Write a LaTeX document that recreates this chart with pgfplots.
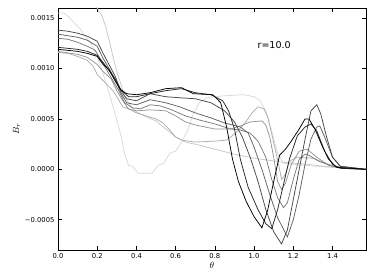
\documentclass[border=0pt]{standalone}
\usepackage{fontspec}
\setmainfont{DejaVu Sans}
\usepackage{pgfplots}
\pgfplotsset{compat=1.18}
\begin{document}
\begin{tikzpicture}
\path[use as bounding box] (-58pt,-30pt) rectangle (316pt,250pt);
\begin{axis}[at={(0,0)},anchor=south west, scale only axis, width=308pt, height=242pt,
xmin=0,xmax=1.5708,ymin=-0.0008,ymax=0.0016,
xtick={0,0.2,0.4,0.6,0.8,1.0,1.2,1.4}, xticklabels={0.0,0.2,0.4,0.6,0.8,1.0,1.2,1.4},
ytick={-0.0005,0,0.0005,0.001,0.0015}, yticklabels={−0.0005,0.0000,0.0005,0.0010,0.0015},
tick align=inside, major tick length=4pt, minor tick num=0,
ticklabel style={font=\fontsize{6.8}{8}\selectfont},
xlabel={$\theta$}, ylabel={$B_r$},
label style={font=\fontsize{9.5}{11}\selectfont},
xlabel style={yshift=3pt}, ylabel style={yshift=-2pt},
axis line style={line width=0.8pt}, tick style={line width=0.6pt, black},
every axis plot/.append style={line width=0.75pt, mark=none},
scaled ticks=false,
]
% A
\addplot[black!15] coordinates {(0,0.00155)(0.03,0.00155)(0.05,0.00152)(0.08,0.00146)(0.11,0.0014)(0.14,0.00132)(0.17,0.00124)(0.2,0.00112)(0.23,0.00095)(0.26,0.00076)(0.29,0.00056)(0.32,0.00034)(0.34,0.00015)(0.36,0.00004)(0.38,0.00003)(0.41,-0.00004)(0.48,-0.00004)(0.51,0.00004)(0.54,0.00006)(0.57,0.00016)(0.6,0.00018)(0.63,0.00027)(0.66,0.00038)(0.69,0.00055)(0.72,0.00066)(0.76,0.00071)(0.85,0.00073)(0.95,0.00074)(1.0,0.00072)(1.03,0.00068)(1.06,0.00058)(1.09,0.00038)(1.12,0.00016)(1.15,0.00006)(1.25,0.00004)(1.4,0.00002)(1.5708,0)};
% B
\addplot[black!22] coordinates {(0,0.0019)(0.18,0.00168)(0.2,0.0016)(0.225,0.00152)(0.245,0.0014)(0.265,0.00125)(0.28,0.00112)(0.3,0.00097)(0.32,0.00085)(0.34,0.00072)(0.37,0.00063)(0.4,0.00057)(0.45,0.00052)(0.5,0.00048)(0.53,0.00043)(0.57,0.00037)(0.6,0.00032)(0.65,0.00027)(0.72,0.00024)(0.8,0.0002)(0.9,0.00015)(1.0,0.00011)(1.15,0.00007)(1.27,0.00005)(1.4,0.00002)(1.5708,0)};
% L2
\addplot[black!32] coordinates {(0,0.00116)(0.05,0.00115)(0.1,0.00112)(0.15,0.00108)(0.18,0.00102)(0.2,0.00094)(0.23,0.00088)(0.26,0.00082)(0.28,0.00078)(0.3,0.00072)(0.33,0.00062)(0.36,0.0006)(0.4,0.00056)(0.45,0.00053)(0.5,0.0005)(0.535,0.00046)(0.57,0.00039)(0.6,0.00032)(0.63,0.00029)(0.7,0.00027)(0.8,0.00028)(0.86,0.00029)(0.9,0.00035)(0.95,0.00045)(0.99,0.00056)(1.02,0.00062)(1.05,0.0006)(1.07,0.00052)(1.09,0.00035)(1.11,0.00018)(1.13,0.0)(1.14,-0.0001)(1.16,-0.00005)(1.18,0.00008)(1.22,0.00012)(1.3,0.00011)(1.38,0.00005)(1.45,0.00001)(1.5708,0)};
% L1
\addplot[black!42] coordinates {(0,0.00117)(0.1,0.00114)(0.15,0.00111)(0.2,0.00104)(0.23,0.00097)(0.27,0.0009)(0.3,0.00078)(0.33,0.00068)(0.36,0.0006)(0.4,0.00058)(0.47,0.00059)(0.55,0.00058)(0.6,0.00053)(0.65,0.00047)(0.7,0.00044)(0.8,0.0004)(0.88,0.0004)(0.93,0.00043)(0.98,0.00047)(1.04,0.00048)(1.06,0.00044)(1.08,0.00032)(1.1,0.00012)(1.12,-0.00012)(1.14,-0.0002)(1.16,-0.00014)(1.19,0.00005)(1.23,0.00018)(1.27,0.0002)(1.32,0.00012)(1.38,0.00004)(1.45,0.00001)(1.5708,0)};
% G2
\addplot[black!52] coordinates {(0,0.0013)(0.05,0.00129)(0.1,0.00126)(0.15,0.00122)(0.19,0.00118)(0.22,0.00108)(0.25,0.00098)(0.28,0.00088)(0.31,0.00078)(0.34,0.00066)(0.38,0.00061)(0.42,0.0006)(0.47,0.00064)(0.52,0.00063)(0.58,0.00059)(0.65,0.00053)(0.72,0.00049)(0.8,0.00045)(0.88,0.0004)(0.93,0.00039)(0.98,0.00036)(1.02,0.00028)(1.06,0.00012)(1.09,-0.0001)(1.12,-0.00028)(1.15,-0.00038)(1.17,-0.00033)(1.2,-0.0001)(1.23,0.0001)(1.26,0.00015)(1.28,0.00014)(1.33,0.00008)(1.4,0.00003)(1.5708,0)};
% G1
\addplot[black!62] coordinates {(0,0.00134)(0.1,0.00131)(0.15,0.00128)(0.2,0.00122)(0.23,0.0011)(0.26,0.001)(0.29,0.0009)(0.32,0.00076)(0.35,0.00066)(0.4,0.00064)(0.47,0.00069)(0.55,0.00066)(0.62,0.00062)(0.7,0.00056)(0.78,0.00051)(0.85,0.00046)(0.93,0.00042)(0.97,0.00036)(1.0,0.00022)(1.04,0.0)(1.08,-0.00025)(1.12,-0.00048)(1.17,-0.00067)(1.2,-0.0005)(1.23,-0.00025)(1.26,0.00005)(1.29,0.0003)(1.32,0.00042)(1.335,0.00043)(1.36,0.00032)(1.4,0.00012)(1.44,0.00003)(1.5708,0)};
% D2
\addplot[black!72] coordinates {(0,0.00138)(0.05,0.00137)(0.1,0.00135)(0.15,0.00132)(0.2,0.00127)(0.23,0.00115)(0.26,0.00104)(0.29,0.00093)(0.32,0.00078)(0.35,0.0007)(0.4,0.00068)(0.47,0.00075)(0.55,0.00072)(0.62,0.00071)(0.7,0.0007)(0.78,0.00066)(0.85,0.00058)(0.9,0.00047)(0.94,0.00032)(0.98,0.00012)(1.02,-0.00012)(1.06,-0.0004)(1.1,-0.00062)(1.14,-0.00074)(1.17,-0.0006)(1.2,-0.0003)(1.23,0.0)(1.26,0.0003)(1.29,0.00058)(1.32,0.00064)(1.34,0.00055)(1.37,0.00032)(1.4,0.00012)(1.44,0.00003)(1.5708,0)};
% D1
\addplot[black!85] coordinates {(0,0.00121)(0.1,0.00119)(0.15,0.00117)(0.2,0.00113)(0.23,0.00106)(0.26,0.00098)(0.29,0.0009)(0.32,0.00079)(0.36,0.00072)(0.4,0.00072)(0.47,0.00075)(0.55,0.00078)(0.63,0.0008)(0.7,0.00076)(0.78,0.00074)(0.84,0.00068)(0.87,0.00058)(0.9,0.0004)(0.93,0.0001)(0.97,-0.00018)(1.02,-0.0004)(1.06,-0.00054)(1.09,-0.00059)(1.12,-0.0004)(1.15,-0.00015)(1.18,0.0001)(1.22,0.00033)(1.26,0.00042)(1.29,0.00045)(1.32,0.00038)(1.36,0.00018)(1.4,0.00005)(1.44,0.00001)(1.5708,0)};
% K
\addplot[black] coordinates {(0,0.00119)(0.1,0.00117)(0.15,0.00115)(0.2,0.00112)(0.23,0.00104)(0.26,0.00099)(0.29,0.00088)(0.32,0.00079)(0.35,0.00075)(0.4,0.00074)(0.47,0.00076)(0.55,0.0008)(0.63,0.00081)(0.69,0.00075)(0.79,0.00074)(0.83,0.00066)(0.86,0.00042)(0.89,0.0001)(0.92,-0.00012)(0.96,-0.00032)(1.0,-0.00047)(1.04,-0.00058)(1.07,-0.0004)(1.1,-0.00012)(1.13,0.00014)(1.16,0.0002)(1.19,0.00028)(1.23,0.0004)(1.26,0.0005)(1.28,0.0005)(1.31,0.0004)(1.35,0.00022)(1.38,0.0001)(1.42,0.00002)(1.5708,0)};
\node[anchor=west, font=\fontsize{9.5}{11}\selectfont] at (axis cs:1.0,0.00123) {r=10.0};
\end{axis}
\end{tikzpicture}
\end{document}
